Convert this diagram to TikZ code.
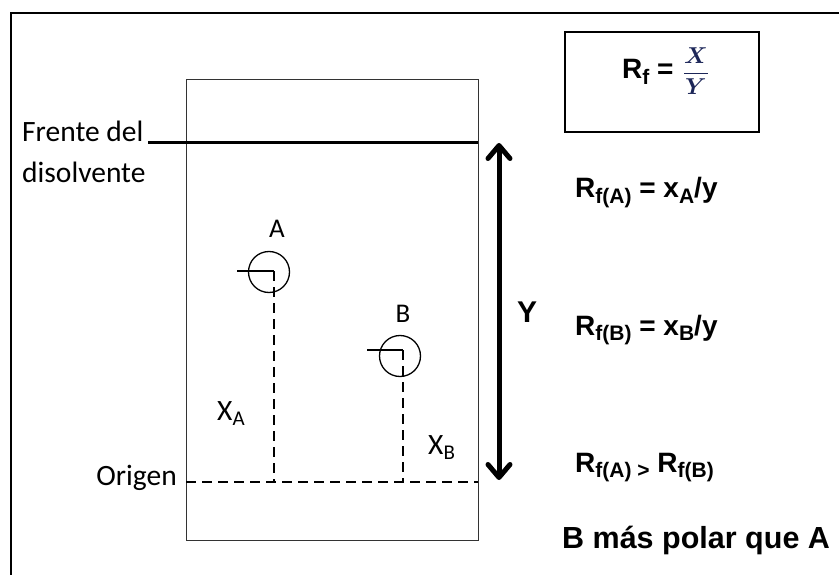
\documentclass[tikz,border=0pt]{standalone}
\usepackage{fontspec}
\usepackage{amsmath}
\setmainfont{Carlito}
\newfontfamily\arialfont{Liberation Sans}
\usetikzlibrary{arrows.meta}
\definecolor{eqblue}{RGB}{28,38,88}
\newcommand{\lowtxt}[2][21]{\raisebox{-0.18em}{\fontsize{#1}{#1}\selectfont #2}}

\begin{document}
\begin{tikzpicture}[x=1pt, y=-1pt,
    >={Straight Barb[length=13pt, width=22pt, line cap=round, line join=round]},
    calib/.style={inner sep=0pt, font=\fontsize{29.5}{29.5}\selectfont},
    arialb/.style={inner sep=0pt, font=\arialfont\bfseries\fontsize{28}{28}\selectfont},
    spot/.style={circle, draw, line width=1.3pt, minimum size=41pt, inner sep=0pt},
    origdash/.style={line width=2.4pt, dash pattern=on 10pt off 6pt}]
    \useasboundingbox (0,0) rectangle (839,575);

    % Frame
    \draw[line width=2pt] (11,575) -- (11,13) -- (839,13);

    % Definitions
    \def\frontY{143}
    \def\origY{482}

    % The plate
    \draw[line width=1pt, black!80] (186,80) rectangle (478,540);

    % Solvent front and origin
    \coordinate (frontL) at (148,\frontY);
    \coordinate (frontR) at (478,\frontY);
    \draw[line width=3pt] (frontL) -- (frontR);
    \coordinate (origL) at (186,\origY);
    \coordinate (origR) at (478,\origY);
    \draw[origdash] (origL) -- (origR);

    \node[calib, anchor=base west] (frente) at (22,142) {Frente del};
    \node[calib, anchor=base west] (disolv) at (22,183) {disolvente};
    \node[calib, anchor=base east] (origen) at (177,485) {Origen};

    % Spots
    \node[spot] (spotA) at (269,272) {};
    \node[spot] (spotB) at (400,356) {};
    \coordinate (tickA) at (274,271);
    \coordinate (tickB) at (403,350);
    \draw[line width=1.5pt] (237,271) -- (tickA);
    \draw[line width=1.5pt] (367,350) -- (tickB);
    \draw[origdash] (tickA) -- (tickA |- origL);
    \draw[origdash] (tickB) -- (tickB |- origL);

    \node[calib, anchor=base, font=\fontsize{27}{27}\selectfont] (labA) at (277,237) {A};
    \node[calib, anchor=base, font=\fontsize{27}{27}\selectfont] (labB) at (403,322) {B};
    \node[calib, anchor=base west] (xA) at (217,420) {X\lowtxt[21]{A}};
    \node[calib, anchor=base west] (xB) at (428,454) {X\lowtxt[21]{B}};

    % Y arrow
    \coordinate (yTop) at (499,143);
    \coordinate (yBot) at (499,480);
    \draw[<->, line width=5pt] (yTop) -- (yBot);
    \node[arialb, anchor=base west, font=\arialfont\bfseries\fontsize{30}{30}\selectfont] (ylab) at (517,323) {Y};

    % Formula box
    \node[draw, line width=1.3pt, minimum width=194pt, minimum height=100pt] (rfbox) at (662,82) {};
    \node[arialb, anchor=base west] (rfeq) at (622,79) {R\lowtxt{f} = \textcolor{eqblue}{\scalebox{2.3}{\normalsize$\dfrac{\boldsymbol{X}}{\boldsymbol{Y}}$}}};

    % Results
    \node[arialb, anchor=base west] (rfA) at (575,198) {R\lowtxt{f(A)} = x\lowtxt{A}/y};
    \node[arialb, anchor=base west] (rfB) at (575,335) {R\lowtxt{f(B)} = x\lowtxt{B}/y};
    \node[arialb, anchor=base west] (rfAB) at (575,472) {R\lowtxt{f(A) >} R\lowtxt{f(B)}};
    \node[arialb, anchor=base west, font=\arialfont\bfseries\fontsize{30.5}{30.5}\selectfont] (polar) at (562,548) {B más polar que A};
\end{tikzpicture}
\end{document}
